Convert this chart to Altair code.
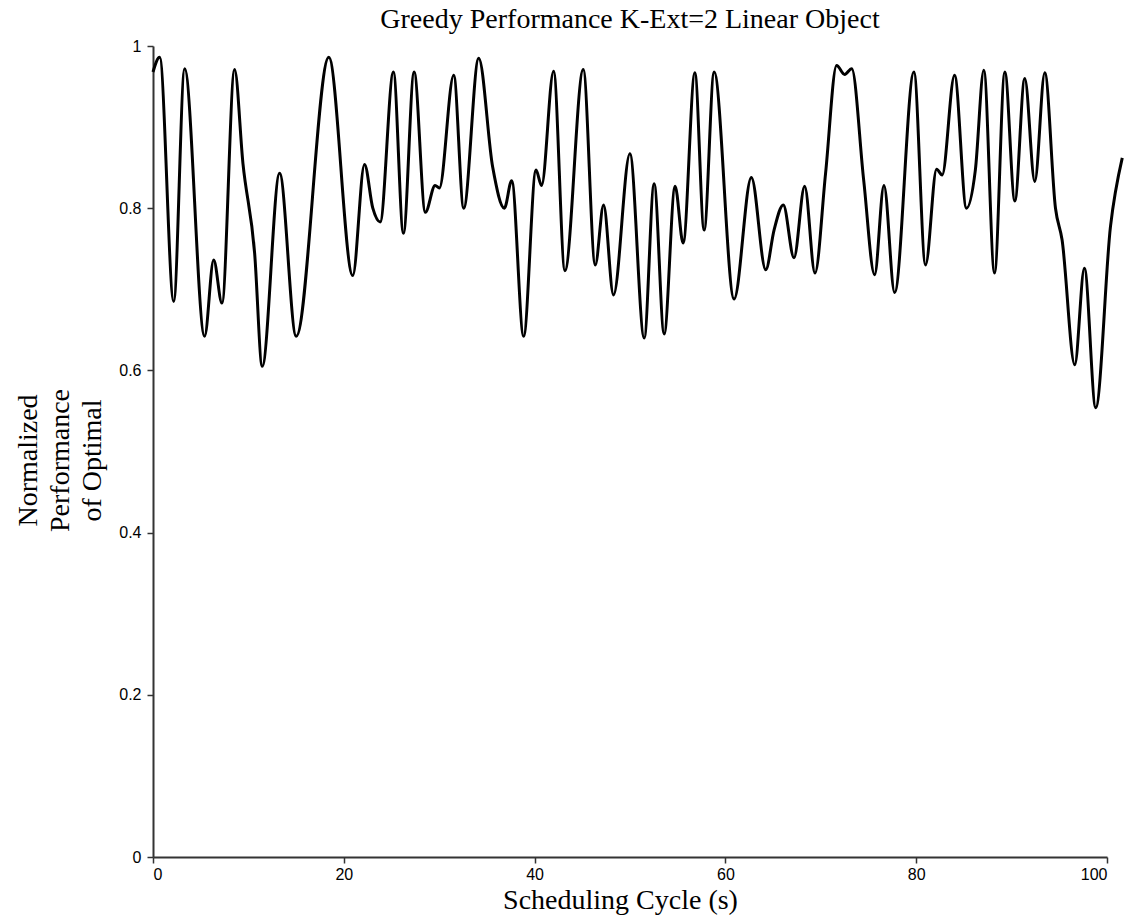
import altair as alt
import pandas as pd

# Scheduling cycle (s) and normalized performance
cycle = [0.0, 0.7, 2.17, 3.32, 5.41, 6.36, 7.23, 8.55, 9.43, 10.65, 11.45, 13.27, 15.01,
         18.43, 20.94, 22.17, 23.04, 23.81, 25.2, 26.25, 27.37, 28.55, 29.57, 30.02,
         31.52, 32.57, 34.14, 35.6, 36.83, 37.6, 38.85, 40.15, 40.73, 41.99, 43.18,
         45.1, 46.36, 47.23, 48.27, 49.99, 51.49, 52.53, 53.58, 54.73, 55.57, 56.8,
         57.77, 58.82, 60.91, 62.72, 64.23, 65.1, 66.07, 67.19, 68.31, 69.39, 70.5,
         71.66, 72.5, 73.24, 74.5, 75.64, 76.62, 77.74, 79.76, 80.98, 82.14, 82.72,
         84.02, 85.27, 86.2, 87.09, 88.21, 89.29, 90.34, 91.38, 92.43, 93.48, 94.6,
         95.29, 96.62, 97.63, 98.82, 100.36, 101.6]
performance = [0.968, 0.986, 0.685, 0.972, 0.642, 0.736, 0.683, 0.971, 0.855, 0.745, 0.605,
               0.843, 0.642, 0.986, 0.717, 0.854, 0.800, 0.783, 0.968, 0.769, 0.968, 0.795,
               0.828, 0.825, 0.964, 0.800, 0.985, 0.851, 0.800, 0.834, 0.642, 0.847, 0.828,
               0.969, 0.723, 0.971, 0.730, 0.804, 0.693, 0.867, 0.640, 0.830, 0.645, 0.827,
               0.757, 0.967, 0.773, 0.968, 0.688, 0.838, 0.724, 0.773, 0.804, 0.739, 0.827,
               0.720, 0.843, 0.976, 0.965, 0.972, 0.834, 0.718, 0.828, 0.696, 0.968, 0.730,
               0.848, 0.841, 0.964, 0.800, 0.847, 0.970, 0.720, 0.968, 0.809, 0.960, 0.833,
               0.967, 0.800, 0.761, 0.607, 0.726, 0.554, 0.777, 0.862]

x_ticks = [0, 20, 40, 60, 80, 100]
y_ticks = [0, 0.2, 0.4, 0.6, 0.8, 1]

df = pd.DataFrame({"cycle": cycle, "performance": performance})

chart = (
    alt.Chart(df)
    .mark_line(color="black", strokeWidth=3, interpolate="monotone")
    .encode(
        x=alt.X(
            "cycle:Q",
            scale=alt.Scale(domain=[0, 100], nice=False, zero=False),
            axis=alt.Axis(
                values=x_ticks,
                format="d",
                title="Scheduling Cycle (s)",
                titleX=467,
                titleY=51,
                titleAlign="center",
                titleBaseline="alphabetic",
                labelPadding=3,
            ),
        ),
        y=alt.Y(
            "performance:Q",
            scale=alt.Scale(domain=[0, 1], nice=False),
            axis=alt.Axis(
                values=y_ticks,
                format="~g",
                title=["Normalized", "Performance", "of Optimal"],
                titleAngle=270,
                titleX=-117,
                titleY=414,
                titleAlign="center",
                titleBaseline="alphabetic",
                titleLineHeight=32,
                labelPadding=6,
            ),
        ),
    )
    .properties(
        width=954,
        height=811,
        title=alt.TitleParams(
            "Greedy Performance K-Ext=2 Linear Object",
            font="Liberation Serif",
            fontSize=28,
            fontWeight="normal",
            color="black",
            anchor="middle",
            baseline="alphabetic",
            offset=10,
            dy=28,
        ),
        autosize=alt.AutoSizeParams(type="none"),
        padding={"left": 145, "top": 38, "right": 17, "bottom": 59},
    )
    .configure_view(stroke=None)
    .configure_axis(
        grid=False,
        domainColor="#333333",
        domainWidth=2,
        tickColor="#333333",
        tickWidth=1.5,
        tickSize=6,
        labelFont="Liberation Sans",
        labelFontSize=16,
        labelColor="black",
        titleFont="Liberation Serif",
        titleFontSize=28,
        titleFontWeight="normal",
        titleColor="black",
    )
)

chart.save("out.html", embed_options={"renderer": "svg", "actions": False})
